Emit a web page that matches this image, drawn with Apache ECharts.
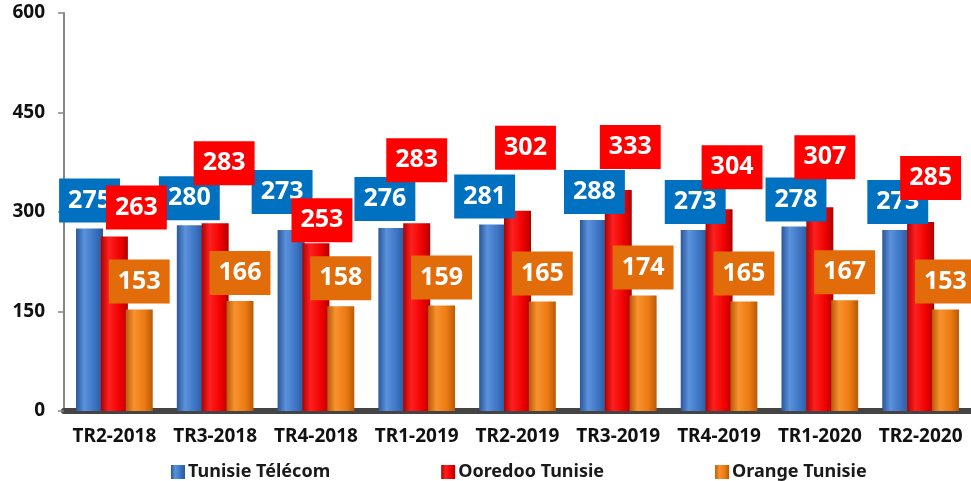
<!DOCTYPE html>
<html>
<head>
<meta charset="utf-8">
<title>Parts de marché</title>
<script src="https://cdn.jsdelivr.net/npm/echarts@6.0.0/dist/echarts.min.js"></script>
<style>
    html, body {
        margin: 0;
        padding: 0;
        background: #ffffff;
    }
    #main {
        width: 971px;
        height: 481px;
    }
</style>
</head>
<body>
<div id="main"></div>
<script>
// données
const quarters = ['TR2-2018', 'TR3-2018', 'TR4-2018', 'TR1-2019', 'TR2-2019', 'TR3-2019', 'TR4-2019', 'TR1-2020', 'TR2-2020'];
const tunisieTelecom = [275, 280, 273, 276, 281, 288, 273, 278, 273];
const ooredooTunisie = [263, 283, 253, 283, 302, 333, 304, 307, 285];
const orangeTunisie = [153, 166, 158, 159, 165, 174, 165, 167, 153];
const yTicks = [0, 150, 300, 450, 600];

// petits décalages des étiquettes (placées à la main dans l'original)
const blueLabelShift = [[0, 0], [-1, 1], [-9, -10], [-7, -1], [-8, 0], [1, 0], [1, 0], [1, 1], [2, 0]];
const redLabelShift = [[22, -1], [9, -32], [6, 5], [0, -35], [8, -35], [12, -15], [13, -14], [5, -22], [10, -16]];

const font = "'Noto Sans', sans-serif";

// dégradé horizontal pour l'effet 3D des barres
function barGradient(edge, mid, light) {
    return new echarts.graphic.LinearGradient(0, 0, 1, 0, [
        { offset: 0, color: edge },
        { offset: 0.3, color: light },
        { offset: 0.7, color: mid },
        { offset: 1, color: edge }
    ]);
}

function boxLabel(bg) {
    return {
        show: true,
        position: 'top',
        distance: 6,
        color: '#ffffff',
        fontFamily: font,
        fontWeight: 'bold',
        fontSize: 25,
        lineHeight: 28,
        backgroundColor: bg,
        padding: [8, 9]
    };
}

function withShift(values, shifts) {
    return values.map(function (v, i) {
        return { value: v, label: { offset: shifts[i] } };
    });
}

let myChart = echarts.init(document.getElementById('main'));

myChart.setOption({
    animation: false,
    backgroundColor: '#ffffff',
    grid: {
        left: 64,
        right: 0,
        top: 13,
        bottom: 70,
        containLabel: false
    },
    legend: {
        left: 166,
        top: 458,
        itemWidth: 14,
        itemHeight: 14,
        itemGap: 111,
        icon: 'rect',
        textStyle: {
            fontFamily: font,
            fontWeight: 'bold',
            fontSize: 18,
            color: '#1a1a1a',
            padding: [0, 0, 0, -2]
        },
        data: ['Tunisie Télécom', 'Ooredoo Tunisie', 'Orange Tunisie']
    },
    xAxis: {
        type: 'category',
        data: quarters,
        axisLine: {
            lineStyle: {
                color: '#444444',
                width: 6
            }
        },
        axisTick: {
            length: 7,
            lineStyle: {
                color: '#444444',
                width: 5
            }
        },
        axisLabel: {
            interval: 0,
            margin: 16,
            color: '#111111',
            fontFamily: font,
            fontWeight: 'bold',
            fontSize: 19
        }
    },
    yAxis: {
        type: 'value',
        min: yTicks[0],
        max: yTicks[yTicks.length - 1],
        interval: 150,
        splitLine: { show: false },
        axisLine: {
            show: true,
            lineStyle: {
                color: '#868686',
                width: 2
            }
        },
        axisTick: {
            show: true,
            length: 6,
            lineStyle: {
                color: '#868686',
                width: 1.5
            }
        },
        axisLabel: {
            margin: 19,
            color: '#111111',
            fontFamily: font,
            fontWeight: 'bold',
            fontSize: 19
        }
    },
    series: [
        {
            name: 'Tunisie Télécom',
            type: 'bar',
            barWidth: 27,
            barGap: '-8%',
            itemStyle: {
                color: barGradient('#2A5797', '#3C73C2', '#5A92DD')
            },
            label: boxLabel('#0070C0'),
            data: withShift(tunisieTelecom, blueLabelShift)
        },
        {
            name: 'Ooredoo Tunisie',
            type: 'bar',
            barWidth: 27,
            barGap: '-8%',
            itemStyle: {
                color: barGradient('#B00000', '#F00000', '#FF2020')
            },
            label: boxLabel('#FF0000'),
            data: withShift(ooredooTunisie, redLabelShift)
        },
        {
            name: 'Orange Tunisie',
            type: 'bar',
            barWidth: 27,
            barGap: '-8%',
            itemStyle: {
                color: barGradient('#B85A08', '#EC7A12', '#F8922E')
            },
            label: boxLabel('#E36C0A'),
            data: orangeTunisie
        }
    ]
});

//ajustement à la fenêtre
window.addEventListener('resize', function () {
    myChart.resize();
});
</script>
</body>
</html>
